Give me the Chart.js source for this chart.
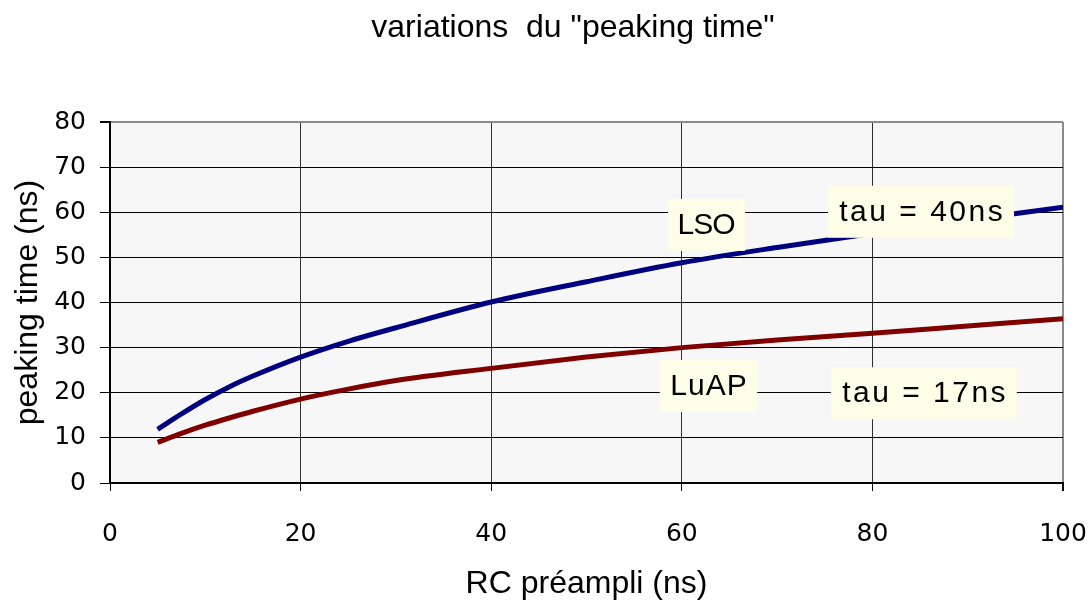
<!DOCTYPE html>
<html>
<head>
<meta charset="utf-8">
<title>variations du peaking time</title>
<script src="https://cdn.jsdelivr.net/npm/chart.js@4.4.1/dist/chart.umd.min.js"></script>
<style>
    html, body { margin: 0; padding: 0; background: #ffffff; }
    #peaking-canvas { display: block; }
</style>
</head>
<body>
<canvas id="peaking-canvas" width="1090" height="612"></canvas>
<script>
// RC du préampli (ns) et peaking time lus pour chaque scintillateur
const rcValues = [5, 7.5, 10, 12.5, 15, 20, 25, 30, 40, 50, 60, 70, 80, 90, 100];
const lsoPeaking = [11.9, 15.3, 18.5, 21.3, 23.7, 27.9, 31.4, 34.4, 40.1, 44.6, 48.8, 52.2, 55.3, 58.3, 61.1];
const luapPeaking = [9.0, 11.0, 12.8, 14.4, 15.9, 18.6, 20.8, 22.7, 25.4, 27.9, 30.0, 31.7, 33.2, 34.8, 36.4];

const xTicks = [0, 20, 40, 60, 80, 100];
const yTicks = [0, 10, 20, 30, 40, 50, 60, 70, 80];

const chartTitle = 'variations  du "peaking time"';

// étiquettes posées dans le graphe (coordonnées en unités des axes)
const noteTexts = ['LSO', 'tau = 40ns', 'LuAP', 'tau = 17ns'];
const noteX = [62.6, 85.1, 62.8, 85.4];
const noteY = [57.2, 60.1, 21.5, 19.9];
const noteSpacing = [-1, 2.5, 1, 2.5];

const toPoints = (ys) => rcValues.map((x, i) => ({x: x, y: ys[i]}));

const plotBackground = {
    id: 'plotBackground',
    beforeDraw(chart) {
        const {ctx, chartArea: a} = chart;
        ctx.save();
        ctx.fillStyle = '#f7f7f7';
        ctx.fillRect(a.left, a.top, a.right - a.left, a.bottom - a.top);
        ctx.restore();
    }
};

// titre un peu décalé à droite, comme sur la feuille d'origine
const topTitle = {
    id: 'topTitle',
    afterDraw(chart) {
        const {ctx} = chart;
        ctx.save();
        ctx.font = '32px "Liberation Sans", Arial, sans-serif';
        ctx.fillStyle = '#000000';
        ctx.textAlign = 'center';
        ctx.textBaseline = 'middle';
        ctx.fillText(chartTitle, 573, 28);
        ctx.restore();
    }
};

const noteBoxes = {
    id: 'noteBoxes',
    afterDatasetsDraw(chart) {
        const {ctx, scales} = chart;
        ctx.save();
        ctx.font = '30px "Liberation Sans", Arial, sans-serif';
        ctx.textAlign = 'center';
        ctx.textBaseline = 'middle';
        noteTexts.forEach((txt, i) => {
            ctx.letterSpacing = noteSpacing[i] + 'px';
            const cx = scales.x.getPixelForValue(noteX[i]);
            const cy = scales.y.getPixelForValue(noteY[i]);
            const w = ctx.measureText(txt).width + 20;
            const h = 52;
            ctx.fillStyle = '#fdfde8';
            ctx.fillRect(cx - w / 2, cy - h / 2, w, h);
            ctx.fillStyle = '#000000';
            ctx.fillText(txt, cx + noteSpacing[i] / 2, cy + 1);
        });
        ctx.restore();
    }
};

const canvas = document.querySelector('#peaking-canvas');

new Chart(canvas, {
    type: 'line',
    data: {
        datasets: [
            {
                label: 'LSO',
                data: toPoints(lsoPeaking),
                borderColor: '#000080',
                borderWidth: 5,
                pointRadius: 0,
                cubicInterpolationMode: 'monotone',
                fill: false,
            },
            {
                label: 'LuAP',
                data: toPoints(luapPeaking),
                borderColor: '#800000',
                borderWidth: 5,
                pointRadius: 0,
                cubicInterpolationMode: 'monotone',
                fill: false,
            }
        ]
    },
    options: {
        responsive: false,
        animation: false,
        layout: {
            padding: {left: 0, right: 27, top: 122, bottom: 0}
        },
        plugins: {
            legend: {display: false},
            tooltip: {enabled: false},
            title: {display: false}
        },
        scales: {
            x: {
                type: 'linear',
                min: 0,
                max: 100,
                afterBuildTicks: (scale) => { scale.ticks = xTicks.map(v => ({value: v})); },
                afterFit: (scale) => {
                    scale.height = 129;
                    scale.paddingLeft = 0;
                    scale.paddingRight = 0;
                },
                ticks: {
                    color: '#000000',
                    padding: 28,
                    maxRotation: 0,
                    font: {family: '"DejaVu Sans", Verdana, sans-serif', size: 25},
                },
                grid: {
                    color: (c) => c.tick && c.tick.value === 100 ? '#8a8a8a' : '#303030',
                    lineWidth: (c) => c.tick && c.tick.value === 100 ? 2 : 1,
                    tickLength: 8,
                    tickColor: '#000000',
                },
                border: {color: '#000000', width: 2},
                title: {
                    display: true,
                    text: 'RC préampli (ns)',
                    color: '#000000',
                    font: {family: '"Liberation Sans", Arial, sans-serif', size: 32, lineHeight: 1.2},
                    padding: {top: 0, bottom: 9},
                }
            },
            y: {
                type: 'linear',
                min: 0,
                max: 80,
                afterBuildTicks: (scale) => { scale.ticks = yTicks.map(v => ({value: v})); },
                afterFit: (scale) => {
                    scale.width = 110;
                    scale.paddingTop = 0;
                    scale.paddingBottom = 0;
                },
                ticks: {
                    color: '#000000',
                    padding: 14,
                    font: {family: '"DejaVu Sans", Verdana, sans-serif', size: 25},
                },
                grid: {
                    color: (c) => c.tick && c.tick.value === 80 ? '#8a8a8a' : '#000000',
                    lineWidth: (c) => c.tick && c.tick.value === 80 ? 2 : 1,
                    tickLength: 10,
                    tickColor: '#000000',
                },
                border: {color: '#000000', width: 2},
                title: {
                    display: true,
                    text: 'peaking time (ns)',
                    color: '#000000',
                    font: {family: '"Liberation Sans", Arial, sans-serif', size: 32, lineHeight: 1.2},
                    padding: {top: 9, bottom: 0},
                }
            }
        }
    },
    plugins: [plotBackground, noteBoxes, topTitle]
});
</script>
</body>
</html>
